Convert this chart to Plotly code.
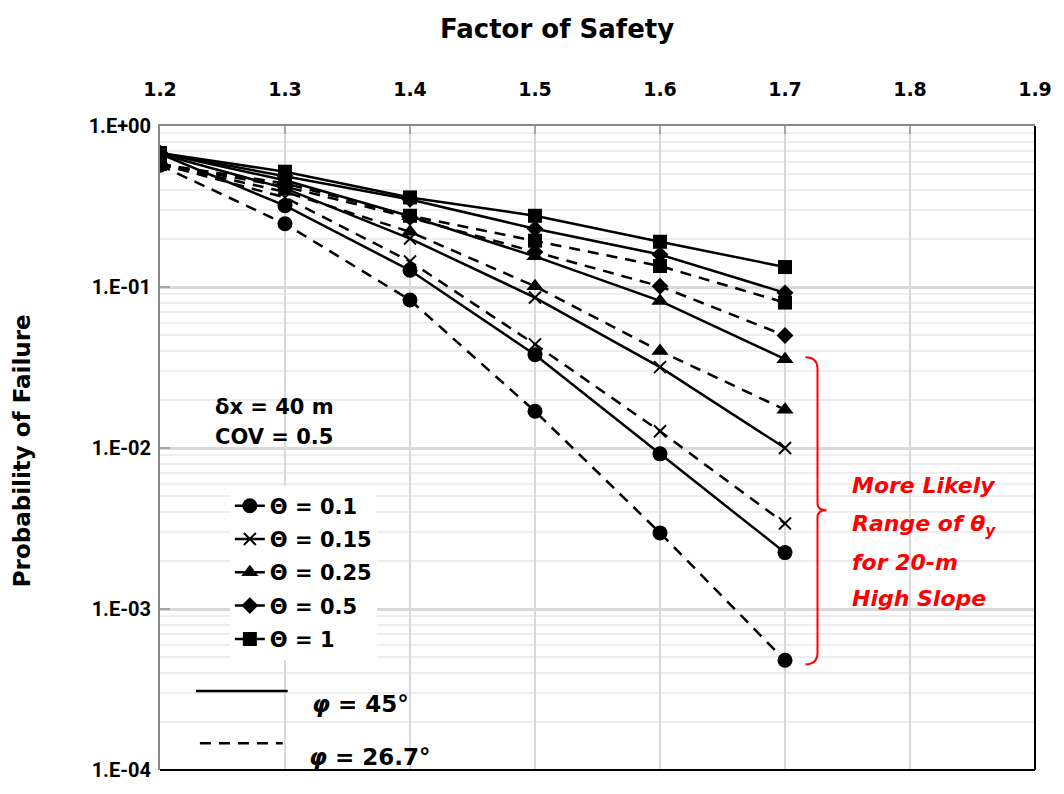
import plotly.graph_objects as go

# Factor of safety (x) and probability of failure for each correlation length
fs = [1.2, 1.3, 1.4, 1.5, 1.6, 1.7]
theta_labels = ["Θ = 0.1", "Θ = 0.15", "Θ = 0.25", "Θ = 0.5", "Θ = 1"]

# friction angle 45 deg (solid lines)
pf45_t010 = [0.67, 0.32, 0.127, 0.038, 0.0092, 0.00224]
pf45_t015 = [0.67, 0.41, 0.20, 0.086, 0.0318, 0.0100]
pf45_t025 = [0.68, 0.46, 0.275, 0.155, 0.082, 0.0356]
pf45_t050 = [0.68, 0.49, 0.35, 0.23, 0.159, 0.092]
pf45_t100 = [0.68, 0.52, 0.36, 0.277, 0.191, 0.133]

# friction angle 26.7 deg (dashed lines)
pf27_t010 = [0.57, 0.247, 0.083, 0.0169, 0.00297, 0.00048]
pf27_t015 = [0.58, 0.36, 0.144, 0.044, 0.0127, 0.0034]
pf27_t025 = [0.58, 0.39, 0.22, 0.101, 0.040, 0.0173]
pf27_t050 = [0.58, 0.42, 0.27, 0.165, 0.101, 0.050]
pf27_t100 = [0.58, 0.44, 0.277, 0.194, 0.135, 0.080]

y_tickvals = [1, 0.1, 0.01, 0.001, 0.0001]
y_ticktext = ["1.E+00", "1.E-01", "1.E-02", "1.E-03", "1.E-04"]

W, H = 1064, 794
ML, MR, MT, MB = 160, 27, 126, 16
PW, PH = W - ML - MR, H - MT - MB


def px(x):
    return (x - ML) / PW


def py(y):
    return (H - MB - y) / PH


FONT = "DejaVu Sans"
TICKFONT_Y = "Roboto"
symbols = ["circle", "x-thin", "triangle-up", "diamond", "square"]
sizes = [15, 12, 15, 13, 14]
solid_sets = [pf45_t010, pf45_t015, pf45_t025, pf45_t050, pf45_t100]
dashed_sets = [pf27_t010, pf27_t015, pf27_t025, pf27_t050, pf27_t100]

fig = go.Figure()
for i, lab in enumerate(theta_labels):
    mk = dict(symbol=symbols[i], size=sizes[i], color="black",
              line=dict(color="black", width=2 if symbols[i] == "x-thin" else 0))
    fig.add_trace(go.Scatter(
        x=fs, y=dashed_sets[i], mode="lines+markers", name=lab,
        legendgroup=lab, showlegend=False,
        line=dict(color="black", width=2.5, dash="11px,8px"), marker=mk))
    fig.add_trace(go.Scatter(
        x=fs, y=solid_sets[i], mode="lines+markers", name=lab,
        legendgroup=lab, showlegend=True,
        line=dict(color="black", width=2.5), marker=mk))

shapes = []
# white panels behind the annotation texts
shapes.append(dict(type="rect", xref="paper", yref="paper", layer="between",
                   x0=px(190), x1=px(369), y0=py(462), y1=py(370),
                   fillcolor="white", line=dict(width=0)))
shapes.append(dict(type="rect", xref="paper", yref="paper", layer="between",
                   x0=px(829), x1=px(1026), y0=py(635), y1=py(453),
                   fillcolor="white", line=dict(width=0)))
# line-style key for friction angle
shapes.append(dict(type="line", xref="paper", yref="paper",
                   x0=px(196), x1=px(288), y0=py(698), y1=py(698),
                   line=dict(color="black", width=2.5)))
shapes.append(dict(type="line", xref="paper", yref="paper",
                   x0=px(200), x1=px(283), y0=py(751), y1=py(751),
                   line=dict(color="black", width=2.5, dash="11px,8px")))
# red curly brace
brace = [(807, 360), (819, 360), (819, 372), (819, 508), (819, 515), (828, 515),
         (819, 515), (819, 522), (819, 659), (819, 671), (807, 671)]
b = [(px(a), py(c)) for a, c in brace]
path = (f"M {b[0][0]},{b[0][1]} Q {b[1][0]},{b[1][1]} {b[2][0]},{b[2][1]} "
        f"L {b[3][0]},{b[3][1]} Q {b[4][0]},{b[4][1]} {b[5][0]},{b[5][1]} "
        f"Q {b[6][0]},{b[6][1]} {b[7][0]},{b[7][1]} L {b[8][0]},{b[8][1]} "
        f"Q {b[9][0]},{b[9][1]} {b[10][0]},{b[10][1]}")
shapes.append(dict(type="path", xref="paper", yref="paper", path=path,
                   line=dict(color="#ff0000", width=2)))
# right and bottom frame edges
shapes.append(dict(type="line", xref="paper", yref="paper", x0=1, x1=1, y0=0, y1=1,
                   line=dict(color="black", width=2)))
shapes.append(dict(type="line", xref="paper", yref="paper", x0=0, x1=1, y0=0, y1=0,
                   line=dict(color="black", width=2)))


def note(text, x, y, size, color="black", xanchor="left", angle=0):
    return dict(text=text, x=px(x), y=py(y), xref="paper", yref="paper",
                xanchor=xanchor, yanchor="middle", showarrow=False, textangle=angle,
                font=dict(size=size, color=color, family=FONT))


annotations = [
    note("<b>Factor of Safety</b>", 558, 28, 26, xanchor="center"),
    note("<b>Probability of Failure</b>", 22, 455, 23, xanchor="center", angle=-90),
    note("<b>δx = 40 m</b>", 213, 410, 21),
    note("<b>COV = 0.5</b>", 213, 441, 21),
    note("<b><i>φ</i> = 45°</b>", 310, 711, 23),
    note("<b><i>φ</i> = 26.7°</b>", 307, 765, 23),
]
red_lines = ["More Likely", "Range of <i>θ</i><sub>y</sub>", "for 20-m", "High Slope"]
red_y = [490, 530, 568, 604]
for t, yy in zip(red_lines, red_y):
    annotations.append(note(f"<b><i>{t}</i></b>", 852, yy, 22, color="#ff0000"))

fig.update_layout(
    width=W, height=H,
    margin=dict(l=ML, r=MR, t=MT, b=MB),
    paper_bgcolor="white", plot_bgcolor="white",
    font=dict(family=FONT, color="black"),
    shapes=shapes, annotations=annotations,
    legend=dict(x=px(230), y=py(490), xanchor="left", yanchor="top",
                bgcolor="white", font=dict(size=21, family=FONT, weight="bold"),
                traceorder="grouped", tracegroupgap=3, itemwidth=30),
    xaxis=dict(range=[1.2, 1.9], dtick=0.1, tick0=1.2, tickformat=".1f",
               side="top", showgrid=True, gridcolor="#d9d9d9", gridwidth=2,
               ticks="inside", ticklen=8, tickcolor="#a6a6a6", tickwidth=2,
               showline=True, linecolor="#888888", linewidth=2, zeroline=False,
               tickfont=dict(size=19, family=FONT, weight="bold"),
               ticklabelstandoff=20),
    yaxis=dict(type="log", range=[-4, 0], tickmode="array",
               tickvals=y_tickvals, ticktext=y_ticktext,
               showgrid=True, gridcolor="#d9d9d9", gridwidth=3,
               minor=dict(dtick="D1", showgrid=True, gridcolor="#eeeeee", gridwidth=2),
               ticks="inside", ticklen=10, tickcolor="#a6a6a6", tickwidth=2,
               showline=True, linecolor="#888888", linewidth=2, zeroline=False,
               tickfont=dict(size=20, family=TICKFONT_Y, weight="bold"),
               ticklabelstandoff=3),
)

fig.write_html("out.html")
